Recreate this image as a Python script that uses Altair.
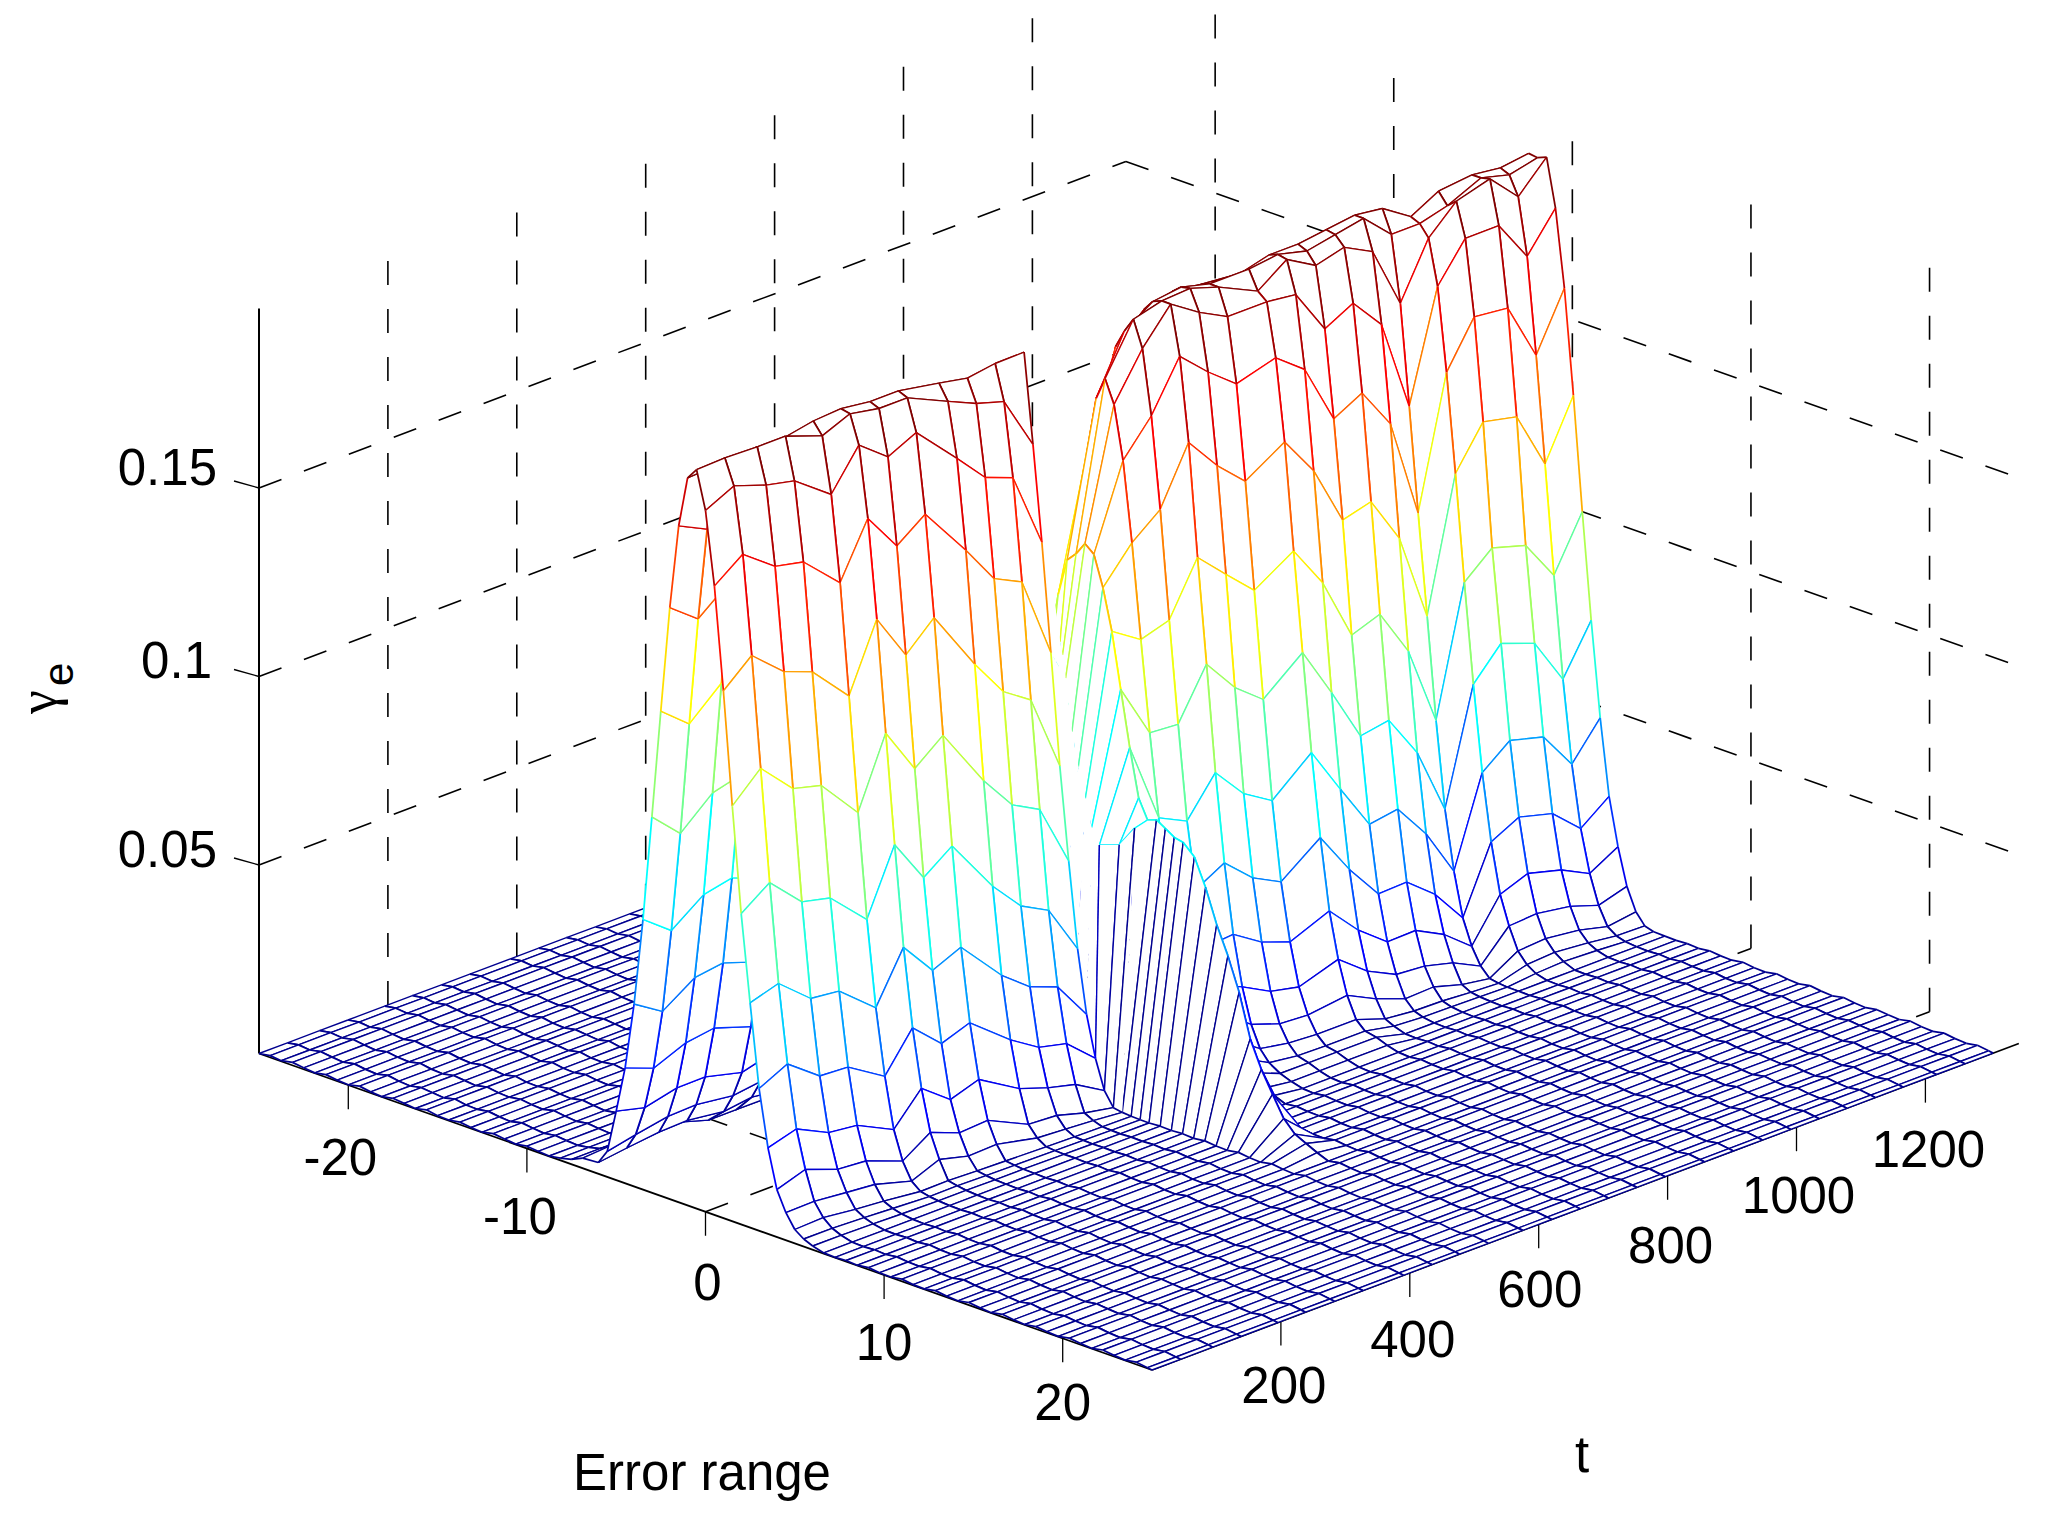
import altair as alt

# ---------- values ----------
T_COLS = [0, 44, 94, 138, 195, 238, 283, 327, 390, 434, 477, 522,
          522,
          575,
          620, 664, 708, 752, 796, 857, 902, 947, 991, 1035, 1078, 1122, 1165, 1217, 1261, 1305]

E_CORE = [-6, -5.5, -5, -4.5, -4, -3.5, -3, -2.5, -2, -1.5, -1, -0.5, 0,
          0.5, 1, 1.5, 2, 2.5, 3, 3.5, 4, 4.5, 5, 5.5, 6]

Z_RIDGE1 = [
 [.003,.004,.005,.0053,.004,.005,.004,.005,.003,.002,.002,.001],
 [.0068,.0084,.01,.0103,.009,.01,.009,.01,.008,.006,.005,.004],
 [.0183,.0164,.0184,.0185,.016,.018,.016,.017,.014,.012,.011,.009],
 [.0306,.0277,.0312,.0323,.029,.032,.029,.031,.027,.024,.022,.018],
 [.0484,.0436,.0493,.0504,.047,.05,.047,.049,.044,.04,.038,.033],
 [.0717,.0659,.0722,.0738,.07,.073,.07,.072,.066,.062,.06,.054],
 [.0997,.0925,.1,.102,.098,.102,.098,.1,.094,.09,.088,.08],
 [.1286,.1224,.13,.132,.128,.132,.128,.13,.122,.118,.116,.108],
 [.1569,.1511,.158,.16,.156,.16,.156,.158,.15,.146,.144,.136],
 [.1794,.1757,.18,.182,.18,.182,.18,.18,.176,.172,.172,.17],
 [.193,.1934,.1937,.1936,.1955,.196,.195,.195,.193,.1915,.1926,.1927],
 [.196,.1963,.196,.196,.1924,.1955,.194,.194,.189,.1856,.1833,.169],
 [.186,.1897,.1867,.185,.1777,.188,.182,.1856,.1747,.1668,.164,.1439],
 [.1668,.1724,.166,.1643,.1551,.1694,.1592,.1648,.1512,.1408,.1372,.1155],
 [.1398,.1464,.1389,.136,.1259,.1435,.1311,.1382,.1218,.1117,.1067,.0863],
 [.1101,.1173,.1087,.1067,.0958,.1141,.1018,.1078,.0917,.0825,.0785,.0619],
 [.0824,.0878,.0795,.0777,.0683,.0854,.0737,.0793,.0646,.0565,.0526,.0395],
 [.0596,.0619,.0547,.0538,.0457,.059,.05,.0533,.0418,.0359,.0331,.0229],
 [.0377,.0414,.035,.0345,.0284,.0385,.0314,.0341,.0255,.0207,.0189,.0121],
 [.0228,.025,.0208,.0199,.0151,.0233,.0174,.0199,.0134,.0108,.0089,.0044],
 [.0126,.0151,.0119,.0113,.0076,.0124,.0094,.0099,.0048,.0043,.0022,.0007],
 [.0073,.0075,.0066,.0059,.0031,.0061,.0041,.0044,.002,.0015,.001,.0003],
 [.0037,.004,.003,.0023,.0012,.0013,.001,.0008,.0005,.0003,.0002,.0001],
 [.002,.002,.0016,.0012,.0007,.0008,.0006,.0005,.0003,.0002,.0001,0],
 [.001,.001,.0008,.0006,.0004,.0004,.0003,.0003,.0002,.0001,0,0],
]

# the narrow column just after the first ridge: its time and height per row
T_LINK = [565, 565, 565, 565, 565, 565, 565, 565, 565, 565, 565, 564, 554,
          545, 541, 537, 534, 530, 528, 545, 555, 522, 522, 522, 522]
Z_LINK = [.001,.002,.005,.01,.018,.03,.047,.065,.085,.1,.11,.114,.112,
          .1073,.0942,.086,.0786,.072,.0683,.0681,.0727,.0003,.0001,.0001,.0001]

Z_GAP = [.001,.003,.006,.012,.02,.035,.05,.07,.09,.11,.125,.135,.1375,
         .141,.139,.131,.1203,.1057,.0911,.0786,.0736,.0745,.073,.0715,.071]

Z_RIDGE2 = [
 [.003,.004,.005,.005,.005,.005,.005,.005,.005,.006,.005,.004,.005,.005,.005,.005],
 [.007,.009,.01,.011,.011,.01,.011,.011,.011,.012,.011,.01,.01,.011,.01,.011],
 [.014,.016,.019,.02,.02,.019,.02,.02,.02,.021,.02,.018,.019,.02,.019,.02],
 [.025,.028,.032,.033,.033,.032,.033,.033,.033,.034,.033,.03,.032,.033,.032,.033],
 [.04,.045,.05,.051,.051,.05,.051,.051,.051,.052,.051,.047,.05,.051,.05,.051],
 [.06,.066,.074,.075,.075,.073,.075,.075,.075,.076,.075,.07,.073,.075,.074,.075],
 [.085,.09,.1,.102,.102,.1,.102,.102,.102,.104,.102,.096,.1,.102,.101,.102],
 [.107,.118,.128,.13,.13,.127,.13,.13,.13,.132,.13,.124,.128,.13,.129,.13],
 [.122,.145,.155,.158,.158,.155,.158,.158,.158,.16,.158,.152,.156,.158,.157,.158],
 [.135,.17,.18,.182,.182,.18,.182,.182,.182,.183,.182,.178,.18,.182,.181,.182],
 [.16,.185,.192,.194,.193,.192,.194,.194,.195,.196,.195,.19,.194,.195,.194,.195],
 [.175,.19,.195,.196,.194,.194,.195,.193,.1945,.196,.189,.189,.191,.195,.193,.1947],
 [.181,.194,.196,.1965,.194,.189,.1945,.19,.192,.188,.1715,.186,.193,.1956,.188,.1957],
 [.175,.187,.196,.191,.187,.187,.186,.174,.178,.1695,.145,.174,.184,.184,.173,.183],
 [.161,.17,.183,.176,.17,.173,.167,.151,.155,.144,.1175,.152,.164,.163,.1476,.1626],
 [.14,.146,.161,.152,.145,.1515,.141,.125,.127,.1145,.091,.126,.137,.135,.1196,.135],
 [.1152,.1175,.1313,.124,.1169,.1234,.1121,.0953,.098,.0854,.0642,.098,.1044,.1017,.0909,.105],
 [.0913,.0907,.1038,.0948,.0888,.0973,.0838,.0694,.0707,.0593,.0415,.0718,.0799,.0766,.0642,.077],
 [.0696,.0659,.0759,.0675,.0628,.0716,.059,.0468,.048,.0386,.0259,.0492,.055,.0526,.0425,.052],
 [.05,.0486,.0528,.046,.0421,.0499,.0386,.0292,.0295,.0234,.0144,.0317,.0355,.0331,.0263,.032],
 [.042,.034,.0347,.0298,.027,.0313,.0233,.0173,.0175,.0136,.0077,.0186,.0214,.019,.0152,.0195],
 [.03,.025,.0216,.0176,.0159,.0193,.0133,.0095,.0089,.0069,.0033,.0111,.0116,.0102,.0076,.0098],
 [.022,.018,.0125,.0098,.0093,.0106,.0068,.0039,.0042,.002,.0008,.0053,.0058,.0047,.0028,.0039],
 [.015,.012,.0069,.0055,.005,.005,.0023,.0015,.0013,.0008,.0004,.0025,.003,.0022,.0012,.001],
 [.01,.008,.004,.003,.0028,.0028,.0012,.0007,.0006,.0004,.0002,.001,.0014,.001,.0005,.0003],
]

# outer floor rows (e < -6 and e > 6)
E_BACK = [-25, -24.375, -23.75, -23.125, -22.5, -21.875, -21.25, -20.625, -20, -19.375,
          -18.75, -18.125, -17.5, -16.875, -16.25, -15.625, -15, -14.375, -13.75, -13.125,
          -12.5, -11.875, -11.25, -10.625, -10, -9.375, -8.75, -8.125, -7.5, -6.875]
RIPPLE_BACK = [0, .0005, .0002, .0008, .0004, .0001, .0007, .0003, .0001, .0008,
               .0003, .0001, .0007, .0004, .0001, .0008, .0003, .0002, .0007, .0003,
               .0001, .0008, .0004, .0001, .0006, .0003, .0001, .0006, .0003, .0002]
E_FRONT = [6.625, 7.25, 7.875, 8.5, 9.125, 9.75, 10.375, 11, 11.625, 12.25,
           12.875, 13.5, 14.125, 14.75, 15.375, 16, 16.625, 17.25, 17.875, 18.5,
           19.125, 19.75, 20.375, 21, 21.625, 22.25, 22.875, 23.5, 24.125, 24.75, 25]
RIPPLE_FRONT = [.0002, .0001, .0003, .0001, .0005, .0002, .0001, .0006, .0002, .0001,
                .0007, .0003, .0001, .0007, .0003, .0001, .0007, .0003, .0001, .0006,
                .0003, .0001, .0007, .0003, .0001, .0007, .0003, .0001, .0006, .0002, 0]
TAIL_FRONT = {
    13: [.068, .061, .052, .045, .036, .025, .018, .012, .007, .004, .002, .001],
    14: [.006, .003, .001],
    15: [.005, .002, .001],
    16: [.002, .001],
    17: [.002, .001],
    18: [.002, .001],
    19: [.002, .001],
}
TAIL_BACK = {0: [.0025, .001], 1: [.003, .001], 2: [.003, .001], 3: [.003, .001]}

Z_TICKS = [0.05, 0.1, 0.15]
Z_TICK_LABELS = ["0.05", "0.1", "0.15"]
E_TICKS = [-20, -10, 0, 10, 20]
E_LABEL_NUDGE = [(-6, 5), (-5, 1), (4, 3), (2, 0), (2, -3)]
T_TICKS = [200, 400, 600, 800, 1000, 1200]
T_LABEL_NUDGE = [(3, -3), (3, -1), (1, -2), (3, 2), (2, 1), (3, 3)]

Z_TOP = 0.1976
Z_MAX = 0.196
T_END = 1345
E_MIN, E_MAX = -25, 25
LINK = 12
LINK_ROWS_DRAWN = (3, 3.5, 4)
LINK_COLS_DRAWN = (3, 3.5)

W, H = 2036, 1498


def fx(e, t):
    return 259 + 17.86 * (e - E_MIN) + 0.6445 * t


def fy(e, t, z=0.0):
    return 1053.5 + 6.33 * (e - E_MIN) - 0.2428 * t - 3770 * z


def jet(v):
    idx = max(0, min(63, int(v / Z_MAX * 64)))
    g = (idx + 1) / 64
    r = min(4 * g - 1.5, -4 * g + 4.5)
    gg = min(4 * g - 0.5, -4 * g + 3.5)
    b = min(4 * g + 0.5, -4 * g + 2.5)
    c = [max(0, min(1, u)) for u in (r, gg, b)]
    return "#%02x%02x%02x" % tuple(int(round(u * 255)) for u in c)


# ---------- assemble the surface ----------
rows_e, rows_z, rows_t, row_core = [], [], [], []
for k, e in enumerate(E_BACK):
    row = [RIPPLE_BACK[k]] * len(T_COLS)
    m = len(E_BACK) - 1 - k
    for col, vals in TAIL_BACK.items():
        if m < len(vals):
            row[col] += vals[m]
    rows_e.append(e)
    rows_z.append(row)
    rows_t.append(T_COLS[LINK])
    row_core.append(False)
for k, e in enumerate(E_CORE):
    rows_e.append(e)
    rows_z.append(Z_RIDGE1[k] + [Z_LINK[k]] + [Z_GAP[k]] + Z_RIDGE2[k])
    rows_t.append(T_LINK[k])
    row_core.append(True)
for k, e in enumerate(E_FRONT):
    row = [RIPPLE_FRONT[k]] * len(T_COLS)
    for col, vals in TAIL_FRONT.items():
        if k < len(vals):
            row[col] += vals[k]
    rows_e.append(e)
    rows_z.append(row)
    rows_t.append(T_COLS[LINK])
    row_core.append(False)


def pt(i, j):
    t = rows_t[i] if j == LINK else T_COLS[j]
    return [round(fx(rows_e[i], t) - 8, 1),
            round(fy(rows_e[i], t, rows_z[i][j]) - 8, 1)]


def link_row_visible(i):
    return (not row_core[i]) or rows_e[i] in LINK_ROWS_DRAWN


ROW_W, COL_W = 1.35, 1.75
features = []
nr, nc = len(rows_e), len(T_COLS)
for j in range(nc - 2, -1, -1):          # far columns first
    for i in range(nr - 1):              # far rows first
        a, b, c, d = pt(i, j), pt(i, j + 1), pt(i + 1, j + 1), pt(i + 1, j)
        features.append({"type": "Feature", "f": "#ffffff", "s": "transparent", "w": 0,
                         "geometry": {"type": "Polygon", "coordinates": [[a, b, c, d, a]]}})
        groups = {}
        if j != LINK - 1 or link_row_visible(i):
            groups.setdefault((jet(rows_z[i][j]), ROW_W), []).append([a, b])
        if j != LINK - 1 or link_row_visible(i + 1):
            groups.setdefault((jet(rows_z[i + 1][j]), ROW_W), []).append([d, c])
        if j not in (LINK - 1, LINK) or (j == LINK and rows_e[i] in LINK_COLS_DRAWN):
            groups.setdefault((jet(rows_z[i][j]), COL_W), []).append([a, d])
        if j != LINK - 1:
            groups.setdefault((jet(rows_z[i][j + 1]), COL_W), []).append([b, c])
        for (col, wd), segs in groups.items():
            features.append({"type": "Feature", "f": "transparent", "s": col, "w": wd,
                             "geometry": {"type": "MultiLineString", "coordinates": segs}})

mesh = alt.Chart(alt.Data(values=features)).mark_geoshape().encode(
    fill=alt.Fill("f:N", scale=None, legend=None),
    stroke=alt.Stroke("s:N", scale=None, legend=None),
    strokeWidth=alt.StrokeWidth("w:Q", scale=None, legend=None),
).project(type="identity", scale=1, translate=[0, 0])

# ---------- box, grid, ticks ----------
xs = alt.Scale(domain=[8, 8 + W], range=[0, W])
ys = alt.Scale(domain=[8 + H, 8], range=[H, 0])
X = alt.X("x:Q", scale=xs, axis=None)
Y = alt.Y("y:Q", scale=ys, axis=None)


def seg(e1, t1, z1, e2, t2, z2):
    return {"x": fx(e1, t1), "y": fy(e1, t1, z1), "x2": fx(e2, t2), "y2": fy(e2, t2, z2)}


dashed = []
for z in Z_TICKS:
    dashed.append(seg(E_MIN, 0, z, E_MIN, T_END, z))
    dashed.append(seg(E_MIN, T_END, z, E_MAX, T_END, z))
for t in T_TICKS:
    dashed.append(seg(E_MIN, t, 0, E_MIN, t, Z_TOP))
    dashed.append(seg(E_MIN, t, 0, E_MAX, t, 0))
for e in E_TICKS:
    dashed.append(seg(e, T_END, 0, e, T_END, Z_TOP))
    dashed.append(seg(e, 0, 0, e, T_END, 0))

grid = alt.Chart(alt.Data(values=dashed)).mark_rule(
    color="black", strokeWidth=1.6, strokeDash=[24, 24]
).encode(x=X, y=Y, x2="x2:Q", y2="y2:Q")

solid = [seg(E_MIN, 0, 0, E_MAX, 0, 0), seg(E_MAX, 0, 0, E_MAX, T_END, 0)]
axes_lines = alt.Chart(alt.Data(values=solid)).mark_rule(
    color="black", strokeWidth=1.7
).encode(x=X, y=Y, x2="x2:Q", y2="y2:Q")

z_axis = alt.Chart(alt.Data(values=[seg(E_MIN, 0, 0, E_MIN, 0, Z_TOP)])).mark_rule(
    color="black", strokeWidth=2
).encode(x=X, y=Y, x2="x2:Q", y2="y2:Q")

ticks = []
for e in E_TICKS:
    ticks.append({"x": fx(e, 0), "y": fy(e, 0), "x2": fx(e, 0), "y2": fy(e, 0) + 24})
for t in T_TICKS:
    ticks.append({"x": fx(E_MAX, t), "y": fy(E_MAX, t), "x2": fx(E_MAX, t), "y2": fy(E_MAX, t) + 24})
for z in Z_TICKS:
    ticks.append({"x": fx(E_MIN, 0), "y": fy(E_MIN, 0, z), "x2": fx(E_MIN, 0) - 25, "y2": fy(E_MIN, 0, z) - 7})
tick_marks = alt.Chart(alt.Data(values=ticks)).mark_rule(
    color="black", strokeWidth=1.3
).encode(x=X, y=Y, x2="x2:Q", y2="y2:Q")

# ---------- text ----------
FONT = "Liberation Sans"
FS = 51

center_labels = []
for e, (dx, dy) in zip(E_TICKS, E_LABEL_NUDGE):
    center_labels.append({"x": fx(e, 0) - 2 + dx, "y": fy(e, 0) + 70 + dy, "t": str(e)})
for t, (dx, dy) in zip(T_TICKS, T_LABEL_NUDGE):
    center_labels.append({"x": fx(E_MAX, t) + dx, "y": fy(E_MAX, t) + 70 + dy, "t": str(t)})
center_labels.append({"x": 702, "y": 1475, "t": "Error range"})
center_labels.append({"x": 1582, "y": 1457, "t": "t"})
center_text = alt.Chart(alt.Data(values=center_labels)).mark_text(
    font=FONT, fontSize=FS, align="center", baseline="middle", color="black"
).encode(x=X, y=Y, text="t:N")

z_labels = [{"x": 217, "y": 470, "t": Z_TICK_LABELS[2]},
            {"x": 212, "y": 663, "t": Z_TICK_LABELS[1]},
            {"x": 217, "y": 852, "t": Z_TICK_LABELS[0]}]
z_text = alt.Chart(alt.Data(values=z_labels)).mark_text(
    font=FONT, fontSize=FS, align="right", baseline="middle", color="black"
).encode(x=X, y=Y, text="t:N")

gamma = alt.Chart(alt.Data(values=[{"x": 56, "y": 714, "t": "γ"}])).mark_text(
    font="Liberation Serif", fontSize=54, align="left", baseline="alphabetic", angle=270, color="black"
).encode(x=X, y=Y, text="t:N")
sub_e = alt.Chart(alt.Data(values=[{"x": 73, "y": 686, "t": "e"}])).mark_text(
    font=FONT, fontSize=42, align="left", baseline="alphabetic", angle=270, color="black"
).encode(x=X, y=Y, text="t:N")

chart = alt.layer(
    grid, axes_lines, z_axis, tick_marks, mesh, center_text, z_text, gamma, sub_e
).properties(
    width=W, height=H, padding=0, autosize=alt.AutoSizeParams(type="none"), background="white"
).configure_view(stroke=None)

chart.save("out.html", embed_options={"renderer": "svg", "actions": False})
